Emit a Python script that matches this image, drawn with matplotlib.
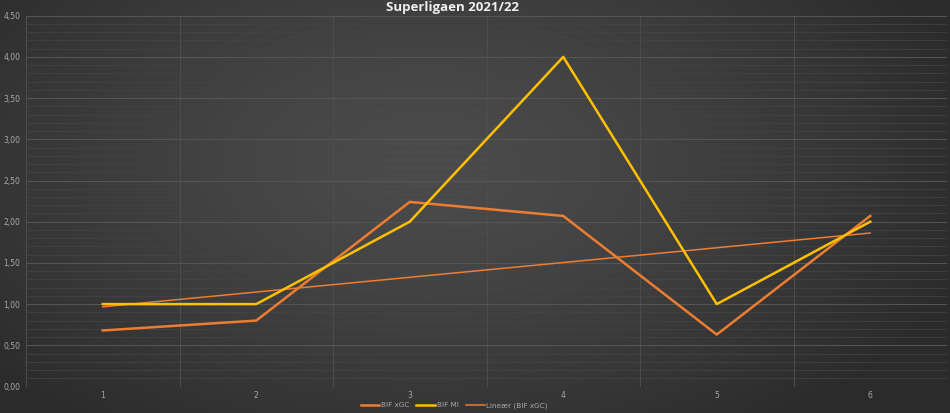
import numpy as np
import matplotlib
matplotlib.use("Agg")
import matplotlib.pyplot as plt
from matplotlib.ticker import MultipleLocator, FuncFormatter

rounds = [1, 2, 3, 4, 5, 6]
bif_xgc = [0.68, 0.80, 2.24, 2.07, 0.63, 2.07]
bif_mi = [1, 1, 2, 4, 1, 2]
title = "Superligaen 2021/22"
labels = ["BIF xGC", "BIF MI", "Lineær (BIF xGC)"]

W, H = 950, 413
fig = plt.figure(figsize=(W / 100, H / 100), dpi=100)

# radial gradient background
bg = fig.add_axes([0, 0, 1, 1], zorder=-10)
yy, xx = np.mgrid[0:H, 0:W]
cx, cy = W * 0.45, H * 0.40
r = np.sqrt(((xx - cx) / (W * 0.60)) ** 2 + ((yy - cy) / (H * 0.80)) ** 2)
r = np.clip(r, 0, 1) ** 1.3
center = np.array([0x4c, 0x4c, 0x4c]) / 255
edge = np.array([0x2b, 0x2b, 0x2b]) / 255
img = center[None, None, :] * (1 - r[..., None]) + edge[None, None, :] * r[..., None]
bg.imshow(img, aspect="auto", extent=[0, 1, 0, 1])
bg.axis("off")

left, right = 26 / W, 947 / W
bottom, top = 1 - 386.5 / H, 1 - 15.7 / H
ax = fig.add_axes([left, bottom, right - left, top - bottom])
ax.patch.set_alpha(0)

ax.plot(rounds, bif_xgc, color="#ED7D31", lw=1.8, label=labels[0], zorder=3)
ax.plot(rounds, bif_mi, color="#FFC000", lw=1.8, label=labels[1], zorder=4)
k, b = np.polyfit(rounds, bif_xgc, 1)
tx = np.array([rounds[0], rounds[-1]])
ax.plot(tx, k * tx + b, color="#ED7D31", lw=1.1, label=labels[2], zorder=2)

ax.set_xlim(0.5, 6.5)
ax.set_ylim(0, 4.5)
ax.yaxis.set_major_locator(MultipleLocator(0.5))
ax.yaxis.set_minor_locator(MultipleLocator(0.1))
ax.set_xticks(rounds)
ax.set_xticks(np.arange(0.5, 6.6, 1.0), minor=True)
ax.yaxis.set_major_formatter(FuncFormatter(lambda v, p: f"{v:.2f}".replace(".", ",")))

ax.grid(which="major", axis="y", color="#565656", lw=0.7)
ax.grid(which="minor", axis="y", color="#454545", lw=0.5)
ax.grid(which="minor", axis="x", color="#4e4e4e", lw=0.7)
ax.set_axisbelow(True)
for s in ax.spines.values():
    s.set_visible(False)
ax.tick_params(which="both", length=0)
ax.tick_params(axis="y", colors="#a8a8a8", labelsize=5.5, pad=4)
ax.tick_params(axis="x", colors="#a8a8a8", labelsize=5.5, pad=3.5)

fig.text(452 / W, 1 - 7 / H, title, ha="center", va="center", color="#eeeeee",
         fontsize=9.5, fontweight="bold", family="Open Sans")

leg = fig.legend(loc="center", bbox_to_anchor=(454 / W, 1 - 405.5 / H), ncol=3, frameon=False,
                 fontsize=5.2, handlelength=2.6, columnspacing=1.0, handletextpad=0.2,
                 labelcolor="#a8a8a8")

fig.savefig("out.png", dpi=100)
